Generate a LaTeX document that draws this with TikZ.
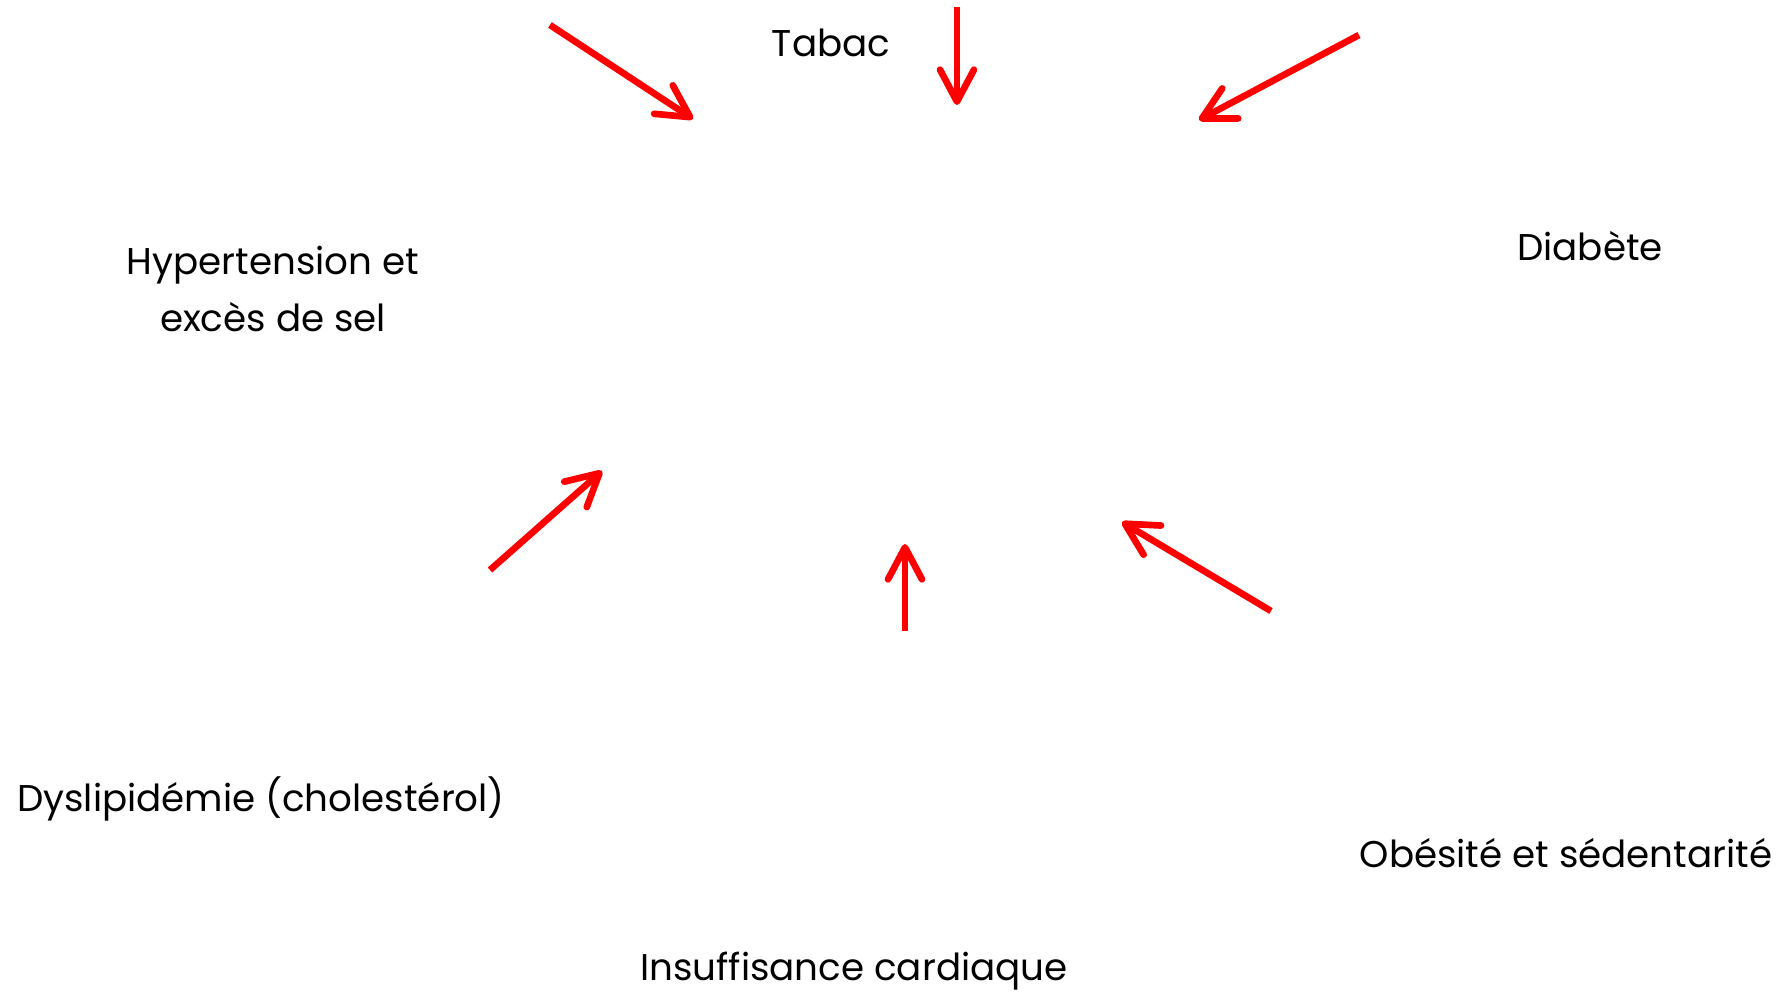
\documentclass[tikz,border=0pt]{standalone}
\usepackage{fontspec}
\setmainfont{Poppins}
\usepackage{tikz}
\usetikzlibrary{arrows.meta}
\usepackage{xcolor}

\begin{document}
\begin{tikzpicture}[every node/.style={align=center,font=\fontsize{10.6}{16.2}\selectfont},
        risk/.style={-{Straight Barb[length=3.2mm,width=3.4mm,round]},line width=1.9pt,red}]
        \useasboundingbox (0,0) rectangle (17.92,9.95);

        \node (tabac) at (8.31, 9.52) {Tabac};
        \node (hta) at (2.73, 7.06) {Hypertension et\\excès de sel};
        \node (diabete) at (15.90, 7.49) {Diabète};
        \node (lipides) at (2.61, 1.96) {Dyslipidémie (cholestérol)};
        \node (obesite) at (15.66, 1.42) {Obésité et sédentarité};
        \node (coeur) at (8.54, 0.24) {Insuffisance cardiaque};

        \coordinate (from1) at (5.50, 9.70);  \coordinate (to1) at (6.93, 8.76);
        \coordinate (from2) at (9.57, 9.88);  \coordinate (to2) at (9.57, 8.90);
        \coordinate (from3) at (13.59, 9.60); \coordinate (to3) at (11.99, 8.75);
        \coordinate (from4) at (4.90, 4.25);  \coordinate (to4) at (6.02, 5.24);
        \coordinate (from5) at (9.05, 3.64);  \coordinate (to5) at (9.05, 4.51);
        \coordinate (from6) at (12.71, 3.84); \coordinate (to6) at (11.22, 4.73);

        \draw[risk] (from1) -- (to1);
        \draw[risk] (from2) -- (to2);
        \draw[risk] (from3) -- (to3);
        \draw[risk] (from4) -- (to4);
        \draw[risk] (from5) -- (to5);
        \draw[risk] (from6) -- (to6);
    \end{tikzpicture}
\end{document}
